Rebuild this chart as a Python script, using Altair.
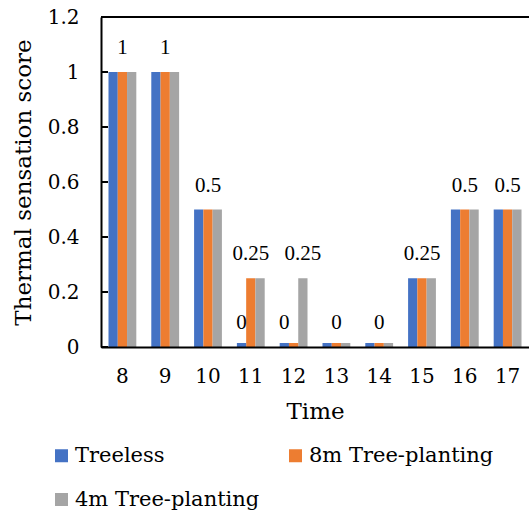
import altair as alt
import pandas as pd

# ---- data -------------------------------------------------------------
times = [8, 9, 10, 11, 12, 13, 14, 15, 16, 17]
series_names = ["Treeless", "8m Tree-planting", "4m Tree-planting"]
treeless = [1, 1, 0.5, 0, 0, 0, 0, 0.25, 0.5, 0.5]
tree_8m = [1, 1, 0.5, 0.25, 0, 0, 0, 0.25, 0.5, 0.5]
tree_4m = [1, 1, 0.5, 0.25, 0.25, 0, 0, 0.25, 0.5, 0.5]
series_colors = ["#4472C4", "#ED7D31", "#A5A5A5"]
y_ticks = [0, 0.2, 0.4, 0.6, 0.8, 1.0, 1.2]

# value labels: hour, bar the label sits over, value shown
label_times = [8, 9, 10, 11, 11, 12, 12, 13, 14, 15, 16, 17]
label_series = [
    "8m Tree-planting", "8m Tree-planting", "8m Tree-planting",
    "Treeless", "8m Tree-planting", "Treeless", "4m Tree-planting",
    "8m Tree-planting", "8m Tree-planting", "8m Tree-planting",
    "8m Tree-planting", "8m Tree-planting",
]
label_values = [1, 1, 0.5, 0, 0.25, 0, 0.25, 0, 0, 0.25, 0.5, 0.5]

# ---- tables -----------------------------------------------------------
rows = []
for name, vals in zip(series_names, [treeless, tree_8m, tree_4m]):
    for t, v in zip(times, vals):
        rows.append({"time": t, "series": name, "value": v})
bars_df = pd.DataFrame(rows)
labels_df = pd.DataFrame({"time": label_times, "series": label_series, "value": label_values})
ticks_df = pd.DataFrame({"value": y_ticks})
top_df = pd.DataFrame({"value": [max(y_ticks)]})

W, H = 428, 330
AXIS_FONT = "DejaVu Serif"
LABEL_FONT = "Liberation Serif"

x_enc = alt.X(
    "time:O",
    title="Time",
    sort=times,
    scale=alt.Scale(paddingInner=0.35, paddingOuter=0.175),
    axis=alt.Axis(
        labelAngle=0, ticks=False, labelPadding=19,
        labelFont=AXIS_FONT, labelFontSize=20, labelColor="black",
        titleFont=AXIS_FONT, titleFontSize=23, titleFontWeight="normal",
        titleColor="black", titlePadding=14,
        domainColor="black", domainWidth=2, zindex=1,
    ),
)
xoff_enc = alt.XOffset("series:N", sort=series_names,
                       scale=alt.Scale(domain=series_names, paddingInner=0, paddingOuter=0))
y_enc = alt.Y(
    "value:Q",
    title="Thermal sensation score",
    stack=None,
    scale=alt.Scale(domain=[0, 1.2], nice=False),
    axis=alt.Axis(
        values=y_ticks, format="~g", ticks=False, grid=False, labelPadding=22,
        labelFont=AXIS_FONT, labelFontSize=20, labelColor="black",
        titleFont=AXIS_FONT, titleFontSize=23, titleFontWeight="normal",
        titleColor="black", titlePadding=12,
        domainColor="black", domainWidth=2, zindex=1,
    ),
)
color_enc = alt.Color(
    "series:N",
    sort=series_names,
    scale=alt.Scale(domain=series_names, range=series_colors),
    legend=alt.Legend(
        title=None, orient="none", legendX=-50, legendY=428,
        direction="horizontal", columns=2, columnPadding=25, rowPadding=22,
        symbolType="square", symbolSize=169, symbolStrokeWidth=0, labelOffset=3,
        labelFont=AXIS_FONT, labelFontSize=21, labelColor="black", labelLimit=300,
    ),
)

bars = alt.Chart(bars_df).mark_bar().encode(x=x_enc, xOffset=xoff_enc, y=y_enc, color=color_enc)

# zero-valued bars keep a thin sliver above the baseline
zero_bars = (
    alt.Chart(bars_df)
    .transform_filter(alt.datum.value == 0)
    .mark_rect(yOffset=-4)
    .encode(x=x_enc, xOffset=xoff_enc, y=y_enc, y2=alt.Y2("value:Q"), color=color_enc)
)

labels = (
    alt.Chart(labels_df)
    .mark_text(font=LABEL_FONT, fontSize=21, color="black", baseline="middle", dy=-24)
    .encode(x=x_enc, xOffset=xoff_enc, y=y_enc, text=alt.Text("value:Q", format="~g"))
)

# inward tick marks on the value axis
tick_marks = (
    alt.Chart(ticks_df)
    .mark_rule(color="black", strokeWidth=2)
    .encode(y=y_enc, x=alt.value(0), x2=alt.value(7))
)

# top edge of the plot frame
top_edge = (
    alt.Chart(top_df)
    .mark_rule(color="black", strokeWidth=2)
    .encode(y=y_enc, x=alt.value(0), x2=alt.value(W))
)

chart = (
    alt.layer(bars, zero_bars, labels, tick_marks, top_edge)
    .properties(
        width=W, height=H,
        autosize=alt.AutoSizeParams(type="none"),
        padding={"left": 101, "top": 17, "right": 0, "bottom": 164},
        background="white",
    )
    .configure_view(stroke=None)
)

chart.save("out.html", embed_options={"renderer": "svg", "actions": False})
